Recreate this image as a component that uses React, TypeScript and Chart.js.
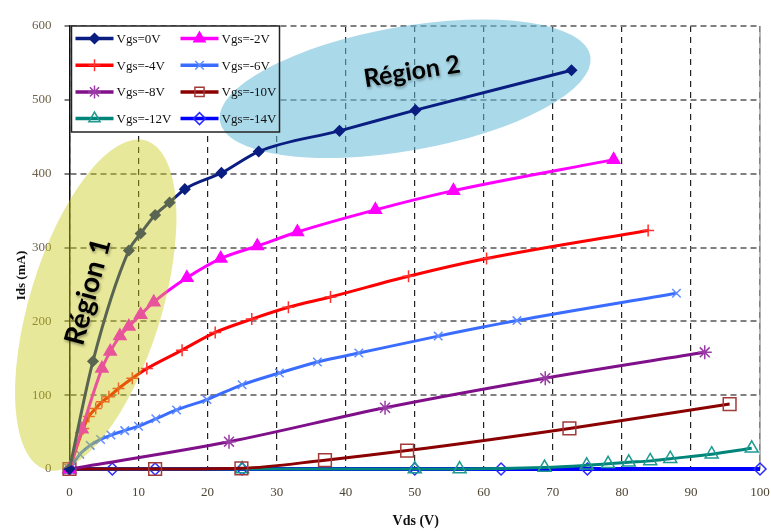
import React, { useEffect, useRef } from 'react';
import { Chart, registerables } from 'chart.js';
import { drawPoint } from 'chart.js/helpers';

Chart.register(...registerables);

// ---- data ----
const seriesLabels = ['Vgs=0V', 'Vgs=-2V', 'Vgs=-4V', 'Vgs=-6V', 'Vgs=-8V', 'Vgs=-10V', 'Vgs=-12V', 'Vgs=-14V'];

const vgs0X = [0, 3.4, 8.6, 10.3, 12.4, 14.5, 16.7, 22.0, 27.4, 39.1, 50.1, 72.7];
const vgs0Y = [0, 146, 296, 319, 344, 361, 379, 401, 430, 458, 486, 540];

const vgs2X = [0, 1.8, 4.7, 5.9, 7.3, 8.6, 10.3, 12.2, 17.0, 21.9, 27.2, 33.0, 44.3, 55.6, 78.8];
const vgs2Y = [0, 54, 136, 159, 180, 193, 209, 226, 259, 285, 302, 321, 351, 377, 419];

const vgs4X = [0, 2.0, 2.8, 3.8, 4.7, 5.7, 7.1, 9.1, 11.2, 16.3, 21.1, 26.4, 31.7, 37.8, 49.1, 60.4, 83.8];
const vgs4Y = [0, 55, 71, 82, 91, 98, 109, 123, 136, 161, 185, 203, 219, 233, 261, 285, 323];

const vgs6X = [0, 1.5, 3.0, 4.5, 6.0, 8.0, 10.0, 12.5, 15.5, 19.9, 25.0, 30.4, 35.9, 41.9, 53.4, 64.8, 87.9];
const vgs6Y = [0, 20, 32, 40, 46, 52, 58, 68, 80, 94, 114, 130, 145, 157, 180, 201, 238];

const vgs8X = [0, 23.1, 45.7, 68.9, 92.0];
const vgs8Y = [0, 37, 83, 123, 158];

const vgs10X = [0, 12.4, 24.9, 37.0, 48.9, 72.4, 95.6];
const vgs10Y = [0, 0, 1, 12, 25, 55, 88];

const vgs12X = [0, 25, 50, 56.5, 68.8, 74.9, 78.0, 81.0, 84.1, 87.0, 93.0, 98.8];
const vgs12Y = [0, 0, 0, 0, 2, 5, 7, 9, 11, 14, 20, 28];

const vgs14X = [0, 6.2, 12.4, 25, 50, 62.5, 75, 100];
const vgs14Y = [0, 0, 0, 0, 0, 0, 0, 0];

const xTicks = [0, 10, 20, 30, 40, 50, 60, 70, 80, 90, 100];
const yTicks = [0, 100, 200, 300, 400, 500, 600];

// ---- styles ----
const seriesX = [vgs0X, vgs2X, vgs4X, vgs6X, vgs8X, vgs10X, vgs12X, vgs14X];
const seriesY = [vgs0Y, vgs2Y, vgs4Y, vgs6Y, vgs8Y, vgs10Y, vgs12Y, vgs14Y];
const colors = ['#0a1e82', '#ff00ff', '#ff0000', '#3a6dff', '#80108a', '#8b0000', '#00857a', '#0000ff'];
const markerColors = ['#0a1e82', '#ff00ff', '#ff3030', '#5f8cff', '#9a3aa6', '#a33a3a', '#1e9a90', '#2a2aff'];
const pointStyles = ['rectRot', 'triangle', 'cross', 'crossRot', 'star', 'rect', 'triangle', 'rectRot'];
const pointRadii = [5, 7, 6, 6, 7, 9, 7.5, 6];
const filled = [true, true, false, false, false, false, false, false];
const lineWidths = [3, 3, 3, 3, 3, 3, 3, 4];

const SERIF = '"Liberation Serif", "DejaVu Serif", serif';

function drawRegion2(ctx: CanvasRenderingContext2D, xs: any, ys: any) {
  const cx = xs.getPixelForValue(48.6);
  const cy = ys.getPixelForValue(515);
  ctx.save();
  ctx.fillStyle = 'rgba(100,185,215,0.55)';
  ctx.beginPath();
  ctx.ellipse(cx, cy, 188, 62, (-10 * Math.PI) / 180, 0, Math.PI * 2);
  ctx.fill();
  ctx.restore();
}

const annotPlugin = {
  id: 'annot',
  beforeDatasetsDraw(chart: any) {
    const { ctx, chartArea: ca, scales } = chart;
    ctx.save();
    ctx.strokeStyle = '#a0a0a0';
    ctx.lineWidth = 1.5;
    ctx.beginPath();
    ctx.moveTo(ca.right, ca.top);
    ctx.lineTo(ca.right, ca.bottom);
    ctx.stroke();
    ctx.restore();
    drawRegion2(ctx, scales.x, scales.y);
  },
  afterDatasetsDraw(chart: any) {
    const { ctx, chartArea: ca, scales } = chart;
    const xs = scales.x;
    const ys = scales.y;

    // legend box
    const lx = ca.left + 2;
    const ly = ca.top;
    const lw = 208;
    const lh = 106;
    ctx.save();
    ctx.fillStyle = '#ffffff';
    ctx.fillRect(lx, ly, lw, lh);
    ctx.beginPath();
    ctx.rect(lx, ly, lw, lh);
    ctx.clip();
    drawRegion2(ctx, xs, ys);
    ctx.restore();
    ctx.save();
    ctx.strokeStyle = '#222';
    ctx.lineWidth = 1.5;
    ctx.strokeRect(lx, ly, lw, lh);
    ctx.font = '13px ' + SERIF;
    ctx.textBaseline = 'middle';
    ctx.textAlign = 'left';
    for (let i = 0; i < seriesLabels.length; i++) {
      const col = i % 2;
      const row = Math.floor(i / 2);
      const x0 = lx + 4 + col * 105;
      const x1 = x0 + 38;
      const yy = ly + 12.5 + row * 26.7;
      ctx.strokeStyle = colors[i];
      ctx.lineWidth = 3.5;
      ctx.beginPath();
      ctx.moveTo(x0, yy);
      ctx.lineTo(x1, yy);
      ctx.stroke();
      ctx.fillStyle = filled[i] ? markerColors[i] : 'rgba(0,0,0,0)';
      ctx.strokeStyle = markerColors[i];
      ctx.lineWidth = 1.5;
      drawPoint(ctx, { pointStyle: pointStyles[i], radius: Math.min(pointRadii[i], 6.5), borderWidth: 1.5, rotation: 0 } as any, (x0 + x1) / 2, yy);
      ctx.fillStyle = '#111';
      ctx.fillText(seriesLabels[i], x1 + 3, yy + 1);
    }
    ctx.restore();

    // region 1 ellipse (over the curves)
    ctx.save();
    const c1x = xs.getPixelForValue(3.8);
    const c1y = ys.getPixelForValue(222);
    ctx.fillStyle = 'rgba(200,200,15,0.42)';
    ctx.beginPath();
    ctx.ellipse(c1x, c1y, 66, 172, (17 * Math.PI) / 180, 0, Math.PI * 2);
    ctx.fill();
    ctx.restore();

    // region labels
    ctx.save();
    ctx.fillStyle = '#000';
    ctx.textAlign = 'center';
    ctx.textBaseline = 'middle';
    ctx.shadowColor = 'rgba(0,0,0,0.35)';
    ctx.shadowBlur = 3;
    ctx.shadowOffsetX = 1;
    ctx.shadowOffsetY = 2;
    ctx.save();
    ctx.font = 'bold 28px Lato, "Open Sans", sans-serif';
    ctx.translate(xs.getPixelForValue(2.7), ys.getPixelForValue(240));
    ctx.rotate((-75 * Math.PI) / 180);
    ctx.fillText('Région 1', 0, 0);
    ctx.restore();
    ctx.save();
    ctx.font = 'bold 25px Lato, "Open Sans", sans-serif';
    ctx.translate(xs.getPixelForValue(49.6), ys.getPixelForValue(538));
    ctx.rotate((-9 * Math.PI) / 180);
    ctx.fillText('Région 2', 0, 0);
    ctx.restore();
    ctx.restore();

    // axis titles
    ctx.save();
    ctx.fillStyle = '#111';
    ctx.textAlign = 'center';
    ctx.textBaseline = 'middle';
    ctx.font = 'bold 14px ' + SERIF;
    ctx.fillText('Vds (V)', (ca.left + ca.right) / 2 + 1, ca.bottom + 52);
    ctx.translate(22, (ca.top + ca.bottom) / 2 + 28);
    ctx.rotate(-Math.PI / 2);
    ctx.font = 'bold 13px ' + SERIF;
    ctx.fillText('Ids (mA)', 0, 0);
    ctx.restore();
  },
};

export default function App() {
  const ref = useRef<HTMLCanvasElement | null>(null);
  useEffect(() => {
    if (!ref.current) return;
    const datasets = seriesLabels.map((label, i) => ({
      label,
      data: seriesX[i].map((x, j) => ({ x, y: seriesY[i][j] })),
      borderColor: colors[i],
      backgroundColor: filled[i] ? markerColors[i] : 'rgba(0,0,0,0)',
      pointBorderColor: markerColors[i],
      pointBackgroundColor: filled[i] ? markerColors[i] : 'rgba(0,0,0,0)',
      pointStyle: pointStyles[i],
      pointRadius: pointRadii[i],
      pointBorderWidth: 1.5,
      borderWidth: lineWidths[i],
      cubicInterpolationMode: 'monotone' as const,
      fill: false,
      clip: false as any,
    }));
    const chart = new Chart(ref.current, {
      type: 'line',
      data: { datasets },
      plugins: [annotPlugin],
      options: {
        responsive: false,
        animation: false,
        events: [],
        layout: { padding: { top: 26, right: 11, left: 0, bottom: 0 } },
        plugins: { legend: { display: false }, tooltip: { enabled: false } },
        scales: {
          x: {
            type: 'linear',
            min: 0,
            max: 100,
            afterBuildTicks: (s: any) => { s.ticks = xTicks.map((v) => ({ value: v })); },
            afterFit: (s: any) => { s.height = 63; s.paddingLeft = 0; s.paddingRight = 0; },
            ticks: { color: '#4d4434', font: { family: SERIF, size: 13 }, padding: 16, maxRotation: 0 },
            grid: { color: '#222', lineWidth: 1.2, drawTicks: false },
            border: { display: true, color: '#111', width: 1.5, dash: [6, 5] },
          },
          y: {
            type: 'linear',
            min: 0,
            max: 600,
            afterBuildTicks: (s: any) => { s.ticks = yTicks.map((v) => ({ value: v })); },
            afterFit: (s: any) => { s.width = 69.5; s.paddingTop = 0; s.paddingBottom = 0; },
            ticks: { color: '#6e6248', font: { family: SERIF, size: 13 }, padding: 13 },
            grid: { color: '#808080', lineWidth: 2, tickLength: 5, tickColor: '#555', tickWidth: 1.5, tickBorderDash: [] } as any,
            border: { display: true, color: '#111', width: 1.5, dash: [6, 4] },
          },
        },
      },
    } as any);
    return () => chart.destroy();
  }, []);
  return (
    <div style={{ position: 'absolute', left: 0, top: 0, width: 771, height: 532 }}>
      <canvas ref={ref} width={771} height={532} />
    </div>
  );
}
